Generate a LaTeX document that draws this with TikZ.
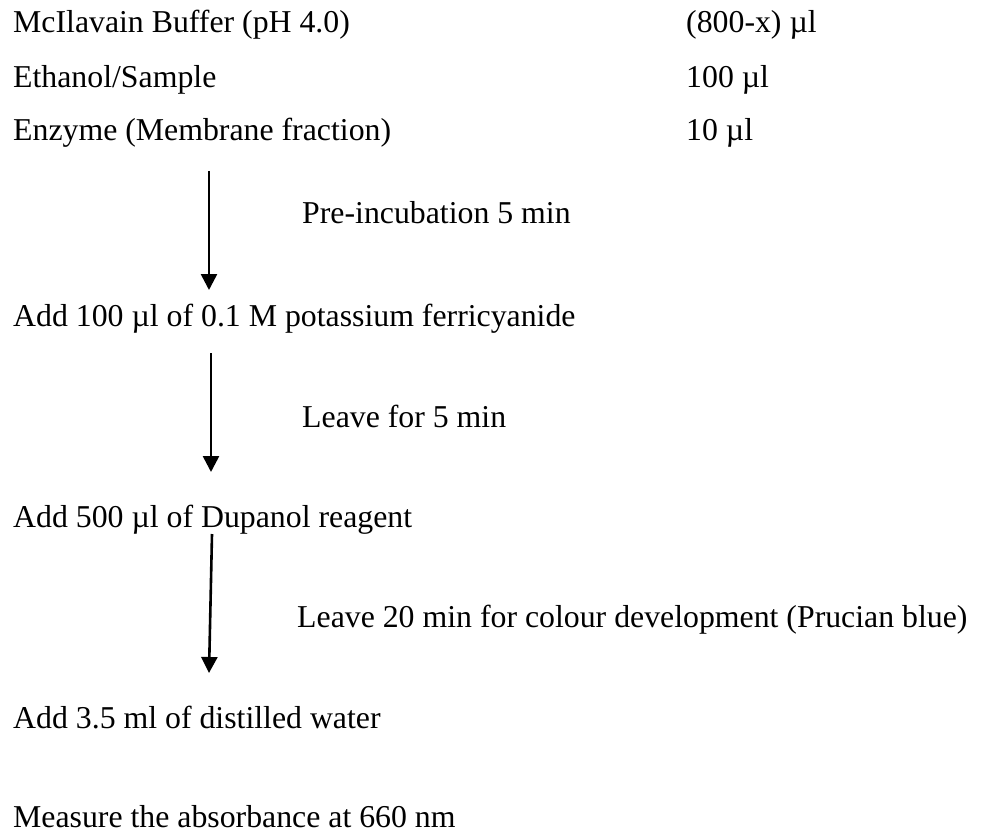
\documentclass[tikz,border=0pt]{standalone}
\usepackage{fontspec}
\setmainfont{Liberation Serif}
\usepackage{tikz}
\usetikzlibrary{arrows.meta,positioning}

\begin{document}
\begin{tikzpicture}[x=1pt,y=-1pt,
    txt/.style={anchor=base west,inner sep=0pt,font=\fontsize{31.8}{38}\selectfont},
    flow/.style={line width=2.6pt,-{Triangle[length=16pt,width=16pt]}}]
    \useasboundingbox (0,0) rectangle (981,834);

    % reagents
    \node[txt] (buffer) at (13,33) {McIlavain Buffer (pH 4.0)};
    \node[txt] (bufvol) at (686,33) {(800-x) µl};
    \node[txt] (ethanol) at (13,88) {Ethanol/Sample};
    \node[txt] (ethvol) at (686,88) {100 µl};
    \node[txt] (enzyme) at (13,141) {Enzyme (Membrane fraction)};
    \node[txt] (enzvol) at (686,141) {10 µl};

    % steps
    \node[txt] (preinc) at (302,223) {Pre-incubation 5 min};
    \node[txt] (ferri) at (13,326) {Add 100 µl of 0.1 M potassium ferricyanide};
    \node[txt] (leave) at (302,427) {Leave for 5 min};
    \node[txt] (dupanol) at (13,527) {Add 500 µl of Dupanol reagent};
    \node[txt] (colour) at (297,627) {Leave 20 min for colour development (Prucian blue)};
    \node[txt] (water) at (13,728) {Add 3.5 ml of distilled water};
    \node[txt] (measure) at (13,827) {Measure the absorbance at 660 nm};

    % arrows
    \coordinate (a1) at (209,171);
    \coordinate (b1) at (209,290);
    \coordinate (a2) at (211,353);
    \coordinate (b2) at (211,472);
    \coordinate (a3) at (212,534);
    \coordinate (b3) at (209,673);
    \draw[flow] (a1) -- (b1);
    \draw[flow] (a2) -- (b2);
    \draw[flow] (a3) -- (b3);
\end{tikzpicture}
\end{document}
